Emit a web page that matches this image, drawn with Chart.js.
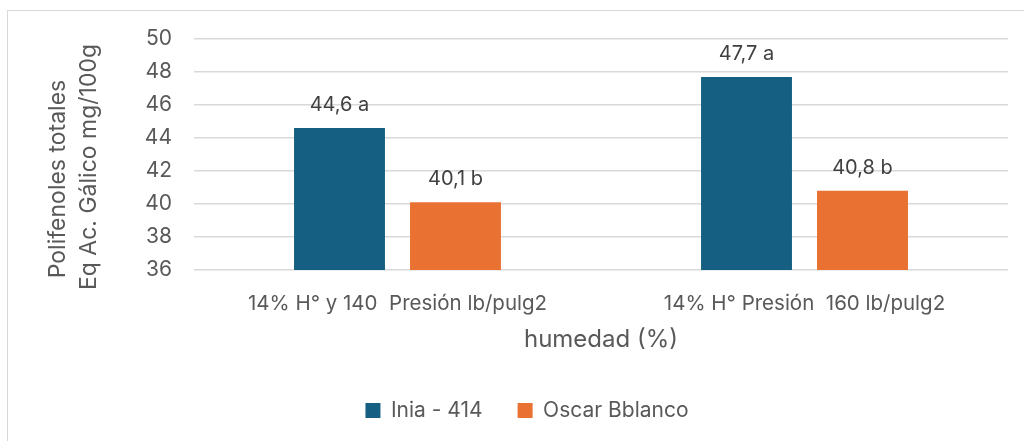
<!DOCTYPE html>
<html>
<head>
<meta charset="utf-8">
<script src="https://cdn.jsdelivr.net/npm/chart.js@4"></script>
<style>
  html, body { margin: 0; padding: 0; background: #fff; }
  #wrap { position: relative; width: 1024px; height: 441px; overflow: hidden; }
  #frame { position: absolute; left: 7px; top: 10px; width: 1100px; height: 500px; border: 1px solid #d9d9d9; }
  #wrap canvas { position: absolute; left: 0; top: 0; }
</style>
</head>
<body>
<div id="wrap">
  <div id="frame"></div>
  <canvas id="grafico" width="1024" height="441"></canvas>
</div>
<script>
const categorias = ["14% H\u00b0 y 140  Presi\u00f3n lb/pulg2", "14% H\u00b0 Presi\u00f3n  160 lb/pulg2"];
const inia414 = [44.6, 47.7];
const oscarBblanco = [40.1, 40.8];
const letrasInia = ["a", "a"];
const letrasOscar = ["b", "b"];
const ejeYMin = 36;
const ejeYMax = 50;
const ejeYPaso = 2;
const tituloY = ["Polifenoles totales", "Eq Ac. G\u00e1lico mg/100g"];
const tituloX = "humedad (%)";

const fuente = "Inter";
const gris = "#595959";

// valores encima de cada barra: "44,6 a"
const etiquetasBarras = {
  id: "etiquetasBarras",
  afterDatasetsDraw(chart) {
    const ctx = chart.ctx;
    ctx.save();
    ctx.font = "20px " + fuente;
    ctx.fillStyle = "#404040";
    ctx.textAlign = "center";
    ctx.textBaseline = "alphabetic";
    chart.data.datasets.forEach((ds, i) => {
      chart.getDatasetMeta(i).data.forEach((bar, j) => {
        const txt = ds.data[j].toFixed(1).replace(".", ",") + " " + ds.letras[j];
        ctx.fillText(txt, bar.x, bar.y - 17);
      });
    });
    ctx.restore();
  }
};

// titulo del eje Y en dos lineas, giradas
const tituloEjeY = {
  id: "tituloEjeY",
  afterDraw(chart) {
    const ctx = chart.ctx;
    const pos = [[58, 179], [89, 167]];
    ctx.save();
    ctx.font = "23px " + fuente;
    ctx.fillStyle = gris;
    ctx.textAlign = "center";
    ctx.textBaseline = "middle";
    tituloY.forEach((t, i) => {
      ctx.save();
      ctx.translate(pos[i][0], pos[i][1]);
      ctx.rotate(-Math.PI / 2);
      ctx.fillText(t, 0, 0);
      ctx.restore();
    });
    ctx.restore();
  }
};

Chart.defaults.font.family = fuente;
Chart.defaults.font.size = 20;
Chart.defaults.color = gris;

const ctx = document.getElementById("grafico").getContext("2d");

const grafico = new Chart(ctx, {
  type: "bar",
  data: {
    labels: categorias,
    datasets: [
      {
        label: "Inia - 414",
        data: inia414,
        letras: letrasInia,
        backgroundColor: "#156082",
        categoryPercentage: 0.57,
        barPercentage: 0.784,
      },
      {
        label: "Oscar Bblanco",
        data: oscarBblanco,
        letras: letrasOscar,
        backgroundColor: "#e97132",
        categoryPercentage: 0.57,
        barPercentage: 0.784,
      },
    ],
  },
  options: {
    responsive: false,
    animation: false,
    layout: {
      padding: { left: 46, right: 16, top: 39, bottom: 10 },
    },
    plugins: {
      legend: {
        position: "bottom",
        labels: {
          boxWidth: 15,
          boxHeight: 15,
          padding: 35,
          color: gris,
          font: { size: 21 },
        },
      },
      tooltip: { enabled: false },
    },
    scales: {
      x: {
        grid: { display: false, drawTicks: false },
        border: { display: false },
        ticks: { padding: 22, color: gris, maxRotation: 0, autoSkip: false, font: { size: 20.5 } },
        title: {
          display: true,
          text: tituloX,
          color: gris,
          font: { size: 24 },
          padding: { top: 0, bottom: 11 },
        },
        afterFit(scale) { scale.height = 95; },
      },
      y: {
        min: ejeYMin,
        max: ejeYMax,
        grid: { color: "#d9d9d9", lineWidth: 1.5, drawTicks: false },
        border: { display: false },
        ticks: { stepSize: ejeYPaso, padding: 22, color: gris, font: { size: 21 } },
        afterFit(scale) { scale.width = 148; },
      },
    },
  },
  plugins: [etiquetasBarras, tituloEjeY],
});
</script>
</body>
</html>
